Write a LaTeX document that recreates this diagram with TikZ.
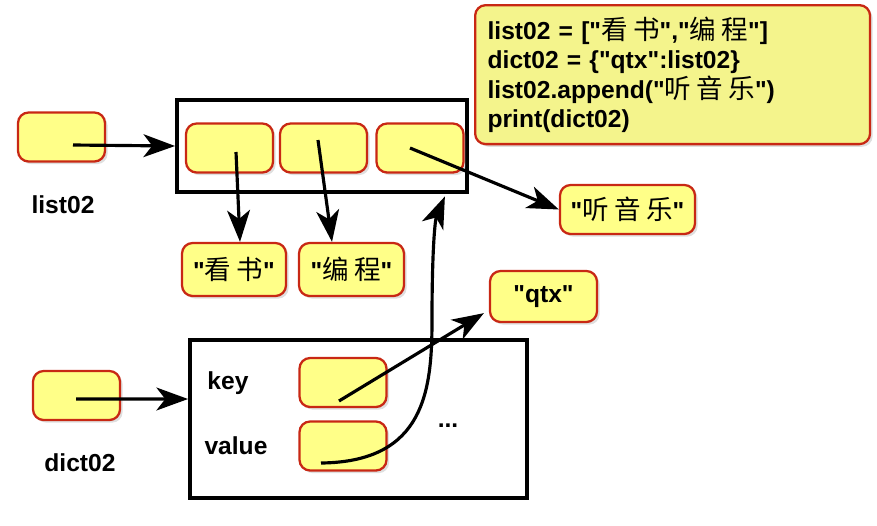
\documentclass[tikz,border=0pt]{standalone}
\usepackage{fontspec}
\setmainfont{Liberation Sans}
\newfontfamily\cjk{Noto Sans CJK SC}[LetterSpace=20,Scale=1.08]
\usetikzlibrary{arrows.meta,shadows}

\definecolor{cellyellow}{HTML}{FFFF88}
\definecolor{codeyellow}{HTML}{F4F48C}
\definecolor{cellred}{HTML}{C82814}

\newcommand{\dq}{\textquotedbl}
\newcommand{\zh}[1]{{\cjk\mdseries #1}}

\tikzset{
	cell/.style={draw=cellred, fill=cellyellow, line width=1.3pt, rounded corners=6pt,
		minimum width=1.74cm, minimum height=0.98cm, inner sep=0pt,
		drop shadow={opacity=0.25, shadow xshift=1.5pt, shadow yshift=-1.5pt}},
	frame/.style={draw, line width=2.2pt, inner sep=0pt},
	ptr/.style={line width=1.8pt, -{Stealth[length=18pt,width=13pt,inset=5pt]}},
	lbl/.style={font=\bfseries\fontsize{14}{16}\selectfont},
}

\begin{document}
\begin{tikzpicture}[x=0.02cm,y=-0.02cm]
	\useasboundingbox (0,0) rectangle (877,525);
	% code
	\node[cell, fill=codeyellow, anchor=north west, minimum width=7.9cm, minimum height=2.78cm,
		text width=7.4cm, align=left, font=\bfseries\fontsize{14}{16.8}\selectfont] (code) at (474,4)
		{list02 = [\dq\zh{看书}\dq,\dq\zh{编程}\dq]\\
		dict02 = \{\dq qtx\dq:list02\}\\
		list02.append(\dq\zh{听音乐}\dq)\\
		print(dict02)};
	% list02
	\node[cell] (lvar) at (61.5,137) {};
	\node[lbl] (lname) at (63,205) {list02};
	\node[frame, minimum width=5.8cm, minimum height=1.84cm] (lst) at (322,146) {};
	\node[cell] (l1) at (229.5,148) {};
	\node[cell] (l2) at (323.5,148) {};
	\node[cell] (l3) at (420,148) {};
	\node[cell, lbl, minimum width=2.08cm, minimum height=1.06cm] (s1) at (234,269.5) {\dq\zh{看书}\dq};
	\node[cell, lbl, minimum width=2.1cm, minimum height=1.06cm] (s2) at (351.5,269.5) {\dq\zh{编程}\dq};
	\node[cell, lbl, minimum width=2.7cm] (s3) at (627.5,209.5) {\dq\zh{听音乐}\dq};
	\node[cell, lbl, minimum width=2.14cm, minimum height=1.02cm] (qtx) at (543.5,296.5) {\dq qtx\dq};
	% dict02
	\node[cell] (dvar) at (76.5,395.5) {};
	\node[lbl] (dname) at (80,463) {dict02};
	\node[frame, minimum width=6.74cm, minimum height=3.16cm] (dct) at (358.5,419) {};
	\node[lbl] (klbl) at (228,383) {key};
	\node[lbl] (vlbl) at (236,446) {value};
	\node[cell] (kc) at (343,382.5) {};
	\node[cell] (vc) at (343,446) {};
	\node[lbl] (dots) at (448,426) {...};

	\coordinate (lp) at (73,145);
	\coordinate (l1p) at (236,152);
	\coordinate (l2p) at (318,140);
	\coordinate (l3p) at (410,148);
	\coordinate (dp) at (76,399);
	\coordinate (kp) at (339,401);
	\coordinate (vp) at (321,463);

	\draw[ptr] (lp) -- (lst.west);
	\draw[ptr] (l1p) -- ([xshift=0.12cm]s1.north);
	\draw[ptr] (l2p) -- ([xshift=-0.39cm]s2.north);
	\draw[ptr] (l3p) -- (s3.west);
	\draw[ptr] (dp) -- ([yshift=0.4cm]dct.west);
	\draw[ptr] (kp) -- ([xshift=-0.1cm,yshift=0.2cm]qtx.south west);
	\draw[ptr] (vp) .. controls (425,462) and (432,390) .. (432,320)
		.. controls (432,250) and (435,220) .. ([xshift=-0.48cm,yshift=-0.05cm]lst.south east);
\end{tikzpicture}
\end{document}
